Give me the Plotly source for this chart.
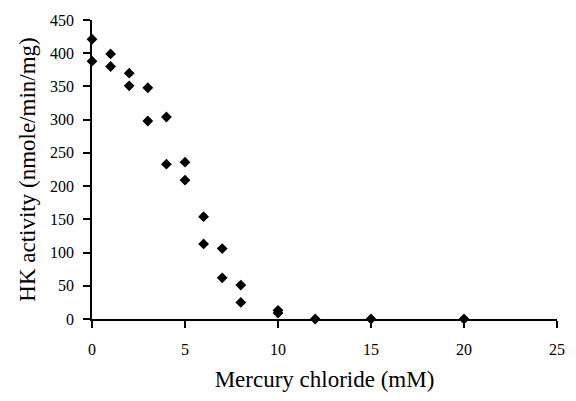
import plotly.graph_objects as go

# Mercury chloride concentration (mM) and measured hexokinase activity
mercury_mM = [0, 0, 1, 1, 2, 2, 3, 3, 4, 4, 5, 5, 6, 6, 7, 7, 8, 8, 10, 10, 12, 15, 20]
hk_activity = [421, 388, 399, 380, 370, 351, 348, 298, 304, 233, 236, 209,
               154, 113, 106, 62, 51, 25, 13, 9, 0, 0, 0]

x_ticks = [0, 5, 10, 15, 20, 25]
y_ticks = [0, 50, 100, 150, 200, 250, 300, 350, 400, 450]

font_family = "Liberation Serif, Times New Roman, serif"

fig = go.Figure(
    go.Scatter(
        x=mercury_mM,
        y=hk_activity,
        mode="markers",
        marker=dict(symbol="diamond", size=8.3, color="black"),
        cliponaxis=False,
        showlegend=False,
    )
)

fig.update_layout(
    width=576,
    height=401,
    margin=dict(l=92, r=11, t=20, b=82),
    paper_bgcolor="white",
    plot_bgcolor="white",
    font=dict(family=font_family, color="black", size=16),
)

axis_style = dict(
    ticks="outside",
    ticklen=7,
    tickwidth=1.5,
    tickcolor="black",
    showline=True,
    linecolor="black",
    linewidth=1.8,
    showgrid=False,
    zeroline=False,
    tickfont=dict(size=16),
)

fig.update_xaxes(
    range=[0, 25],
    tickvals=x_ticks,
    ticklabelstandoff=8,
    title=dict(text="Mercury chloride (mM)", font=dict(size=23), standoff=14),
    **axis_style,
)

fig.update_yaxes(
    range=[0, 450],
    tickvals=y_ticks,
    ticklabelstandoff=6,
    title=dict(text="HK activity (nmole/min/mg)", font=dict(size=23), standoff=8),
    **axis_style,
)

fig.write_html("out.html")
